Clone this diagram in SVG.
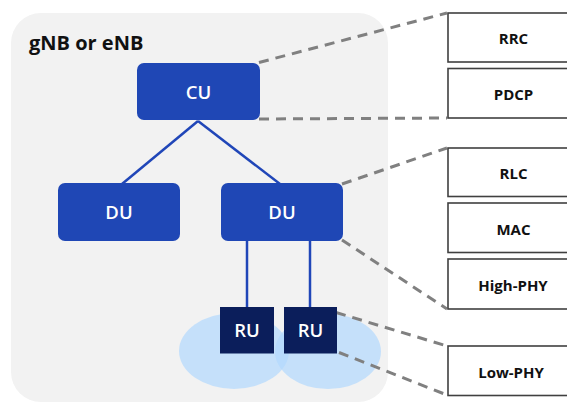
<svg xmlns="http://www.w3.org/2000/svg" width="567" height="403" viewBox="0 0 567 403">
<style>
.node{fill:#1f47b5}
.ru{fill:#0b1e5b}
.wt{fill:#ffffff;font-family:"Open Sans","Noto Sans",sans-serif;font-weight:600;font-size:18.5px;text-anchor:middle}
.layer{fill:#ffffff;stroke:#404040;stroke-width:1.6}
.lt{fill:#111111;font-family:"Open Sans","Noto Sans",sans-serif;font-weight:700;font-size:15px;text-anchor:middle}
.link{stroke:#2046b8;stroke-width:2.5;fill:none}
.dash{stroke:#808080;stroke-width:3;stroke-dasharray:10 7;fill:none}
.cell{fill:#b2d8fd;opacity:0.7}
</style>
<rect id="gnb" x="11" y="13" width="377" height="389" rx="30" fill="#f2f2f2"/>
<text x="29" y="50" font-family="'Open Sans','Noto Sans',sans-serif" font-weight="700" font-size="20" fill="#111">gNB or eNB</text>
<g id="cells">
<ellipse class="cell" cx="234" cy="351" rx="55" ry="38"/>
<ellipse class="cell" cx="328" cy="351.5" rx="53" ry="37.5"/>
</g>
<g id="connectors">
<line class="link" x1="198" y1="121" x2="122" y2="184"/>
<line class="link" x1="198" y1="121" x2="280" y2="184"/>
<line class="link" x1="247" y1="241" x2="247" y2="307"/>
<line class="link" x1="310" y1="241" x2="310" y2="307"/>
<line class="dash" x1="259" y1="62.5" x2="447" y2="13"/>
<line class="dash" x1="259" y1="119" x2="447" y2="118"/>
<line class="dash" x1="342" y1="184" x2="447" y2="148"/>
<line class="dash" x1="342" y1="240" x2="447" y2="309"/>
<line class="dash" x1="336" y1="312.5" x2="447" y2="346"/>
<line class="dash" x1="339" y1="352.5" x2="447" y2="395"/>
</g>
<g id="cu"><rect class="node" x="137" y="63" width="123" height="57" rx="7"/><text class="wt" x="198.5" y="98.5">CU</text></g>
<g id="du1"><rect class="node" x="58" y="183" width="122" height="58" rx="7"/><text class="wt" x="119" y="219">DU</text></g>
<g id="du2"><rect class="node" x="221" y="183" width="122" height="58" rx="7"/><text class="wt" x="282" y="219">DU</text></g>
<g id="ru1"><rect class="ru" x="220" y="307" width="54" height="46.5"/><text class="wt" x="247" y="337">RU</text></g>
<g id="ru2"><rect class="ru" x="284" y="307" width="53" height="46.5"/><text class="wt" x="310.5" y="337">RU</text></g>
<g id="rrc"><rect class="layer" x="448" y="13" width="130" height="49"/><text class="lt" x="513.5" y="44">RRC</text></g>
<g id="pdcp"><rect class="layer" x="448" y="68.5" width="130" height="49.5"/><text class="lt" x="513.5" y="100">PDCP</text></g>
<g id="rlc"><rect class="layer" x="448" y="148" width="130" height="48.5"/><text class="lt" x="513.5" y="179">RLC</text></g>
<g id="mac"><rect class="layer" x="448" y="203" width="130" height="49.5"/><text class="lt" x="513.5" y="234.5">MAC</text></g>
<g id="highphy"><rect class="layer" x="448" y="259" width="130" height="50"/><text class="lt" x="513" y="290.5">High-PHY</text></g>
<g id="lowphy"><rect class="layer" x="448" y="346" width="130" height="49.5"/><text class="lt" x="511" y="377.5">Low-PHY</text></g>
</svg>
